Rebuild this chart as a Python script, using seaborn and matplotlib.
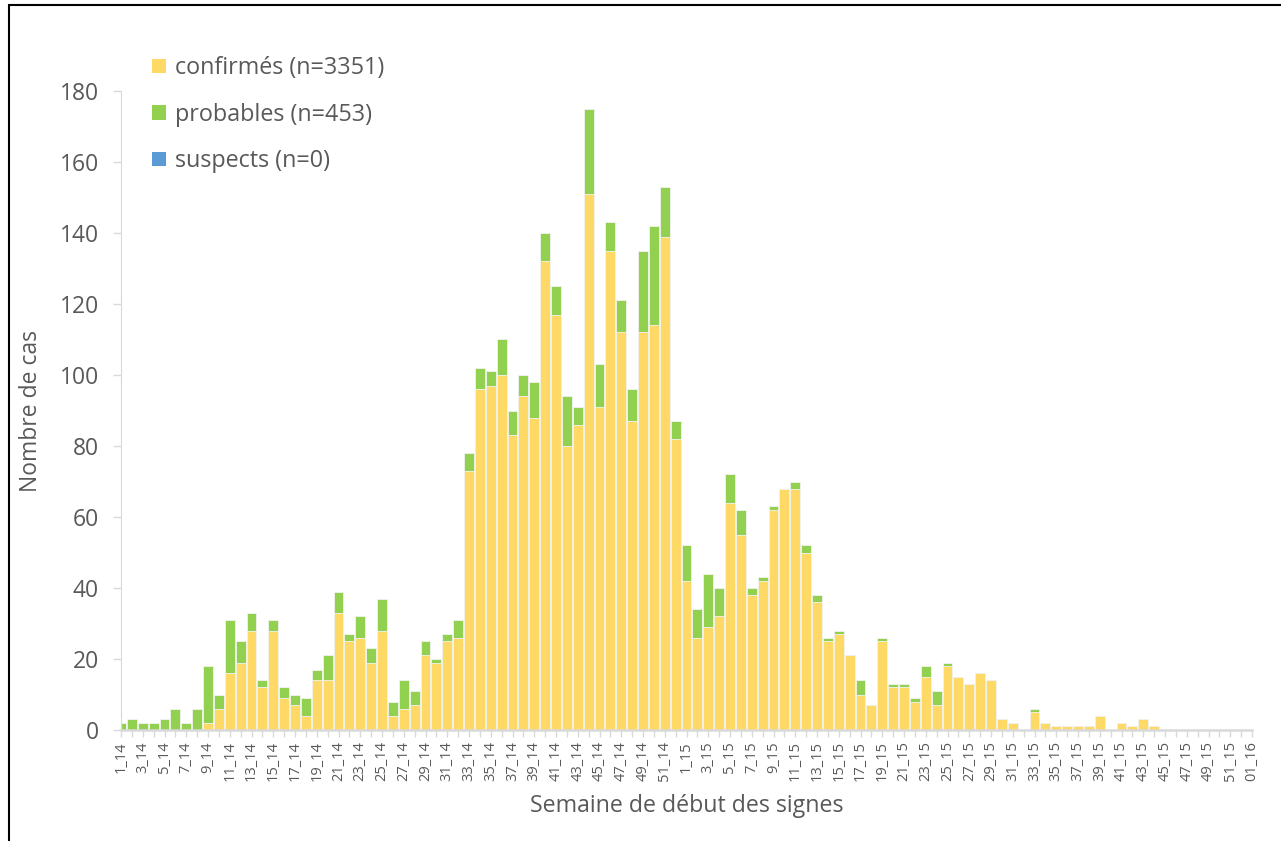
import matplotlib
matplotlib.use("Agg")
import matplotlib.pyplot as plt
import matplotlib.patches as mpatches
import pandas as pd
import seaborn as sns

sns.set_style("white")
plt.rcParams["font.family"] = ["Open Sans", "DejaVu Sans"]

# semaines de debut des signes (1_14 .. 52_14, 1_15 .. 52_15, 01_16)
semaines = [f"{w}_14" for w in range(1, 53)] + [f"{w}_15" for w in range(1, 53)] + ["01_16"]

confirmes_2014 = [0, 0, 0, 0, 0, 0, 0, 0, 2, 6, 16, 19, 28, 12, 28, 9, 7, 4,
                  14, 14, 33, 25, 26, 19, 28, 4, 6, 7, 21, 19, 25, 26, 73, 96,
                  97, 100, 83, 94, 88, 132, 117, 80, 86, 151, 91, 135, 112, 87,
                  112, 114, 139, 82]
confirmes_2015 = [42, 26, 29, 32, 64, 55, 38, 42, 62, 68, 68, 50, 36, 25, 27,
                  21, 10, 7, 25, 12, 12, 8, 15, 7, 18, 15, 13, 16, 14, 3, 2, 0,
                  5, 2, 1, 1, 1, 1, 4, 0, 2, 1, 3, 1, 0, 0, 0, 0, 0, 0, 0, 0]
confirmes_2016 = [0]

probables_2014 = [2, 3, 2, 2, 3, 6, 2, 6, 16, 4, 15, 6, 5, 2, 3, 3, 3, 5, 3,
                  7, 6, 2, 6, 4, 9, 4, 8, 4, 4, 1, 2, 5, 5, 6, 4, 10, 7, 6, 10,
                  8, 8, 14, 5, 24, 12, 8, 9, 9, 23, 28, 14, 5]
probables_2015 = [10, 8, 15, 8, 8, 7, 2, 1, 1, 0, 2, 2, 2, 1, 1, 0, 4, 0, 1, 1,
                  1, 1, 3, 4, 1, 0, 0, 0, 0, 0, 0, 0, 1, 0, 0, 0, 0, 0, 0, 0,
                  0, 0, 0, 0, 0, 0, 0, 0, 0, 0, 0, 0]
probables_2016 = [0]

suspects = [0] * len(semaines)

legende = ["confirmés (n=3351)", "probables (n=453)", "suspects (n=0)"]
couleurs = ["#FFD966", "#92D050", "#5B9BD5"]

df = pd.DataFrame({
    "semaine": semaines,
    "confirmes": confirmes_2014 + confirmes_2015 + confirmes_2016,
    "probables": probables_2014 + probables_2015 + probables_2016,
    "suspects": suspects,
})
df["total"] = df["confirmes"] + df["probables"] + df["suspects"]

fig = plt.figure(figsize=(12.81, 8.41), dpi=100)
ax = fig.add_axes([121 / 1281, 1 - 730 / 841, (1252 - 121) / 1281, (730 - 91) / 841])

gris = "#595959"
# stacked bars: total first (green), confirmed on top of it (yellow)
sns.barplot(data=df, x="semaine", y="total", order=semaines, color=couleurs[1],
            saturation=1, width=0.9, edgecolor="#F2F2F2", linewidth=0.6, ax=ax)
sns.barplot(data=df, x="semaine", y="confirmes", order=semaines, color=couleurs[0],
            saturation=1, width=0.9, edgecolor="#F2F2F2", linewidth=0.6, ax=ax)

ax.set_xlim(0, len(semaines) - 1)
ax.set_ylim(0, 180)
ax.set_yticks(range(0, 181, 20))
ax.tick_params(axis="y", labelsize=16.5, labelcolor=gris, length=6, width=1,
               color="#D9D9D9", left=True, pad=10)

ax.set_xticks(range(len(semaines)))
ax.set_xticklabels([s if i % 2 == 0 else "" for i, s in enumerate(semaines)],
                   rotation=90, fontsize=10.5, color=gris)
ax.tick_params(axis="x", length=5, width=1, color="#D9D9D9", bottom=True, pad=3)

for side in ["top", "right"]:
    ax.spines[side].set_visible(False)
ax.spines["left"].set_color("#D9D9D9")
ax.spines["bottom"].set_color("#D9D9D9")
ax.spines["bottom"].set_linewidth(1.8)

ax.set_xlabel("Semaine de début des signes", fontsize=16.7, color=gris, labelpad=9)
ax.set_ylabel("Nombre de cas", fontsize=16.5, color=gris, labelpad=12)

handles = [mpatches.Patch(facecolor=c, edgecolor="none") for c in couleurs]
fig.legend(handles, legende, loc="upper left", bbox_to_anchor=(131 / 1281, 1 - 35 / 841),
           frameon=False, fontsize=16.8, labelcolor=gris, handlelength=0.58,
           handleheight=0.58, handletextpad=0.4, labelspacing=0.97)

# black frame of the original chart
fig.patches.append(mpatches.Rectangle((9 / 1281, -0.1), 2, 1.1 - 5 / 841,
                                      transform=fig.transFigure, fill=False,
                                      edgecolor="black", linewidth=1.5))

fig.savefig("out.png", dpi=100, facecolor="white")
